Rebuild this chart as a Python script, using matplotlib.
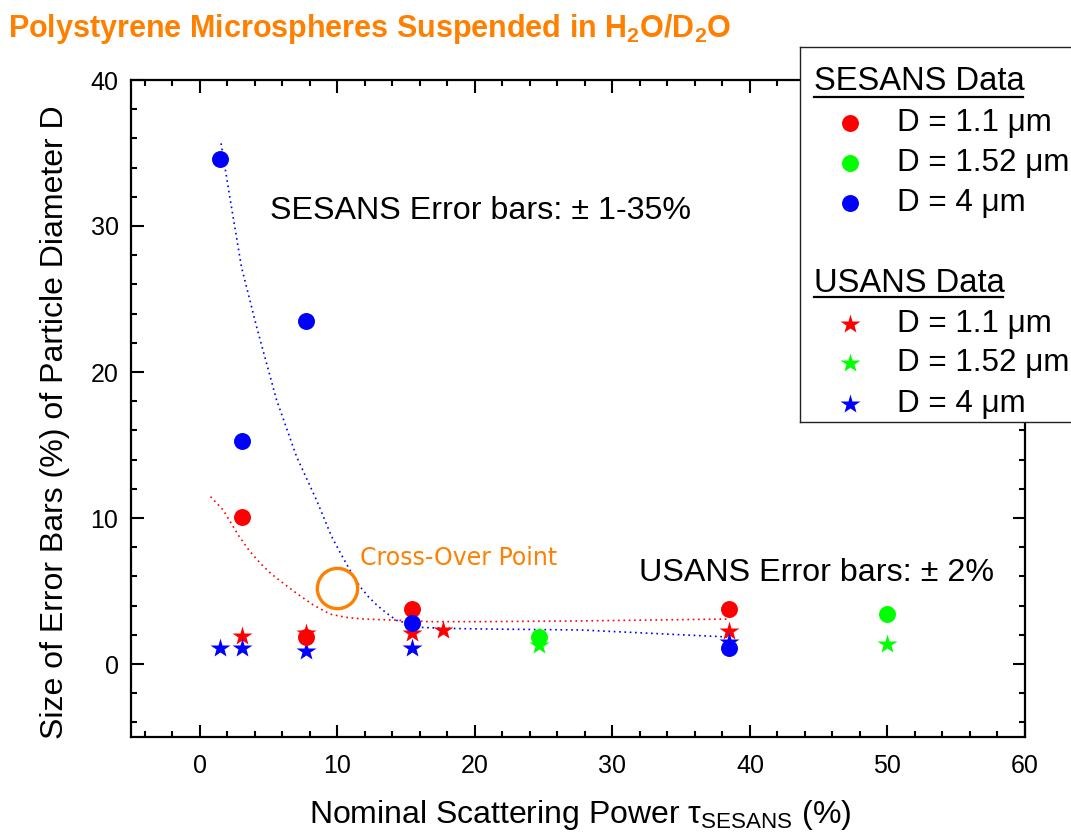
import matplotlib
matplotlib.use("Agg")
import matplotlib.pyplot as plt
from matplotlib.ticker import MultipleLocator

plt.rcParams['font.family'] = ['Liberation Sans', 'DejaVu Sans']
plt.rcParams['mathtext.fontset'] = 'custom'
plt.rcParams['mathtext.rm'] = 'Liberation Sans'
plt.rcParams['mathtext.it'] = 'Liberation Sans:italic'
plt.rcParams['mathtext.bf'] = 'Liberation Sans:bold'

# ---------------- data ----------------
sesans_11_x = [3.06, 7.7, 15.4, 38.5]
sesans_11_y = [10.07, 1.87, 3.77, 3.77]
sesans_152_x = [24.7, 50.0]
sesans_152_y = [1.85, 3.4]
sesans_4_x = [1.5, 3.06, 7.7, 15.4, 38.5]
sesans_4_y = [34.6, 15.3, 23.5, 2.8, 1.1]

usans_11_x = [3.06, 7.7, 15.4, 17.7, 38.5]
usans_11_y = [1.9, 2.1, 2.1, 2.3, 2.25]
usans_152_x = [24.7, 50.0]
usans_152_y = [1.3, 1.37]
usans_4_x = [1.5, 3.06, 7.7, 15.4, 38.5]
usans_4_y = [1.1, 1.1, 0.9, 1.1, 1.5]

# dotted guide curves
curve_4_x = [1.55, 2.18, 3.03, 4.13, 5.58, 7.04, 8.5, 9.59, 10.3, 11.05, 11.65, 12.26,
             12.87, 13.6, 14.3, 15.05, 16.0, 17.97, 20.4, 27.7, 38.4]
curve_4_y = [35.66, 32.0, 27.2, 23.1, 18.1, 14.2, 11.2, 8.72, 7.47, 6.21, 5.3, 4.61,
             4.04, 3.47, 3.0, 2.79, 2.51, 2.44, 2.4, 2.33, 1.85]
curve_11_x = [0.78, 1.7, 2.79, 3.6, 4.4, 5.2, 6.02, 7.04, 8.25, 9.47, 10.6, 11.9, 14.3,
              16.75, 20.4, 27.7, 38.4]
curve_11_y = [11.46, 10.55, 8.84, 7.76, 6.9, 6.17, 5.57, 4.84, 4.04, 3.42, 3.2, 3.08, 3.0,
              2.9, 2.9, 2.95, 3.08]

crossover_x = [10.0]
crossover_y = [5.2]

xticks = [0, 10, 20, 30, 40, 50, 60]
yticks = [0, 10, 20, 30, 40]

RED = '#ff0000'
GREEN = '#00ff00'
BLUE = '#0000ff'
ORANGE = '#ff8000'

W, H = 1071, 836
fig = plt.figure(figsize=(W / 100, H / 100), dpi=100)
ax = fig.add_axes([131 / W, 1 - 737 / H, (1025 - 131) / W, (737 - 80) / H])
ax.set_xlim(-5, 60)
ax.set_ylim(-5, 40)
ax.set_xticks(xticks)
ax.set_yticks(yticks)
ax.xaxis.set_minor_locator(MultipleLocator(2))
ax.yaxis.set_minor_locator(MultipleLocator(2))
ax.tick_params(which='both', direction='in', top=True, right=True, width=1.5)
ax.tick_params(which='major', length=9, labelsize=18)
ax.tick_params(which='minor', length=4.5)
ax.tick_params(axis='x', pad=12)
ax.tick_params(axis='y', pad=9)
for s in ax.spines.values():
    s.set_linewidth(1.6)

dot = (0, (1, 2.2))
ax.plot(curve_4_x, curve_4_y, color=BLUE, lw=1.2, ls=dot, zorder=2)
ax.plot(curve_11_x, curve_11_y, color=RED, lw=1.2, ls=dot, zorder=2)

ms_c = 12.2
ms_s = 14.5
ax.plot(usans_11_x, usans_11_y, '*', color=RED, ms=ms_s, mec='none', zorder=3)
ax.plot(usans_152_x, usans_152_y, '*', color=GREEN, ms=ms_s, mec='none', zorder=3)
ax.plot(usans_4_x, usans_4_y, '*', color=BLUE, ms=ms_s, mec='none', zorder=3)
ax.plot(sesans_11_x, sesans_11_y, 'o', color=RED, ms=ms_c, mec='none', zorder=4)
ax.plot(sesans_152_x, sesans_152_y, 'o', color=GREEN, ms=ms_c, mec='none', zorder=4)
ax.plot(sesans_4_x, sesans_4_y, 'o', color=BLUE, ms=ms_c, mec='none', zorder=4)

ax.plot(crossover_x, crossover_y, 'o', mfc='none', mec=ORANGE, mew=2.4, ms=29, zorder=5)
ax.text(11.65, 7.26, 'Cross-Over Point', color=ORANGE, fontsize=17,
        family=['DejaVu Sans'], va='center', ha='left')

ax.text(5.1, 31.0, 'SESANS Error bars: \u00b1 1-35%', fontsize=23.2, va='center', ha='left')
ax.text(31.9, 6.2, 'USANS Error bars: \u00b1 2%', fontsize=23.2, va='center', ha='left')

# axis labels
fig.text(55 / W, 1 - 422 / H, 'Size of Error Bars (%) of Particle Diameter D',
         rotation=90, fontsize=23, ha='center', va='center')
fig.text(580 / W, 1 - 823 / H, r'Nominal Scattering Power $\mathrm{\tau}_{\mathrm{SESANS}}$ (%)',
         fontsize=23, ha='center', va='baseline')

# title
fig.text(8 / W, 1 - 37 / H, r'Polystyrene Microspheres Suspended in H$_\mathbf{2}$O/D$_\mathbf{2}$O',
         fontsize=22, fontweight='bold', color=ORANGE, ha='left', va='baseline')

# legend box (manual, extends past the right edge)
lax = fig.add_axes([800 / W, 1 - 422 / H, (1100 - 800) / W, (422 - 47) / H], zorder=10)
lax.set_xlim(800, 1100)
lax.set_ylim(422, 47)
lax.set_xticks([])
lax.set_yticks([])
lax.patch.set_facecolor('white')
for s in lax.spines.values():
    s.set_linewidth(1.0)
    s.set_color('#222222')

lax.text(814, 82, 'SESANS Data', fontsize=23.6, va='center', ha='left')
lax.plot([814, 1023], [97, 97], color='black', lw=1.6)
lax.text(814, 283, 'USANS Data', fontsize=23.6, va='center', ha='left')
lax.plot([814, 1003], [297, 297], color='black', lw=1.6)

entries = [
    (123, 'o', RED, 'D = 1.1 \u03bcm'),
    (163, 'o', GREEN, 'D = 1.52 \u03bcm'),
    (203, 'o', BLUE, 'D = 4 \u03bcm'),
    (324, '*', RED, 'D = 1.1 \u03bcm'),
    (363, '*', GREEN, 'D = 1.52 \u03bcm'),
    (404, '*', BLUE, 'D = 4 \u03bcm'),
]
for yy, mk, col, lab in entries:
    lax.plot([850], [yy], mk, color=col, mec='none', ms=ms_c if mk == 'o' else ms_s)
    lax.text(897, yy, lab, fontsize=22.6, va='center', ha='left')

fig.savefig('out.png', dpi=100)
